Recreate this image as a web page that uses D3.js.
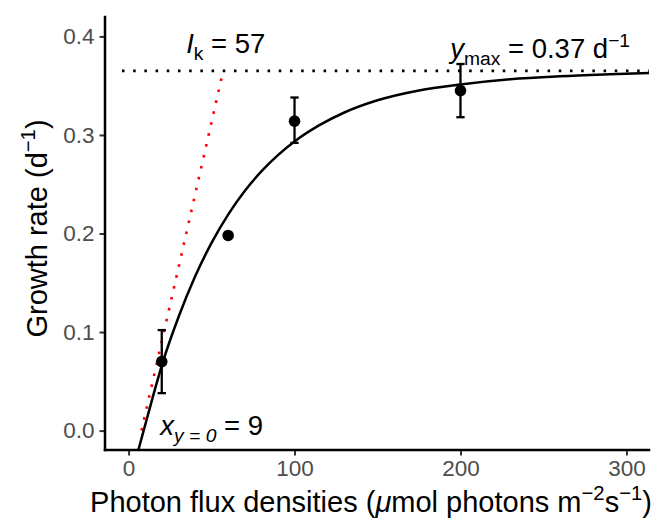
<!DOCTYPE html>
<html>
<head>
<meta charset="utf-8">
<script src="https://cdn.jsdelivr.net/npm/d3@7"></script>
<style>
  html, body { margin: 0; padding: 0; background: #ffffff; }
  svg { display: block; font-family: "Liberation Sans", Arial, Helvetica, sans-serif; }
</style>
</head>
<body>
<svg id="chart" width="658" height="521"></svg>
<script>
// ---- data ----
const lightLevels = [20, 60, 100, 200];
const growthMean  = [0.070, 0.198, 0.314, 0.345];
const growthLow   = [0.038, null, 0.292, 0.318];
const growthHigh  = [0.102, null, 0.338, 0.372];

// fitted light-response curve
const fitX = [5.9, 15, 20, 30, 40, 50, 60, 70, 80, 90, 100, 115, 130, 150, 175, 200, 230, 260, 290, 313.6];
const fitY = [-0.0197, 0.0365, 0.066, 0.1147, 0.156, 0.1905, 0.2192, 0.2431, 0.2630, 0.2796, 0.2934,
              0.3099, 0.3228, 0.3352, 0.3452, 0.3512, 0.3565, 0.3595, 0.3615, 0.3628];

const yMax = 0.365;     // saturation level (dotted line)
const yMaxLabel = "0.37";
const Ik = 57;          // light saturation parameter
const xIntercept = 7.8; // where the initial slope line crosses zero
const x0Label = "9";

const xTicks = [0, 100, 200, 300];
const yTicks = [0.0, 0.1, 0.2, 0.3, 0.4];

// ---- layout ----
const svg = d3.select("#chart");
const L = 105, R = 649, T = 17, B = 450;

const x = d3.scaleLinear().domain([-14.2, 313.6]).range([L, R]);
const y = d3.scaleLinear().domain([-0.0197, 0.4197]).range([B, T]);

svg.append("clipPath").attr("id", "clip")
  .append("rect").attr("x", L).attr("y", T).attr("width", R - L).attr("height", B - T);

const panel = svg.append("g").attr("clip-path", "url(#clip)");

// y max dotted line
panel.append("line")
  .attr("x1", x(-4)).attr("x2", x(313.6))
  .attr("y1", y(yMax)).attr("y2", y(yMax))
  .attr("stroke", "#000").attr("stroke-width", 2.6)
  .attr("stroke-dasharray", "2.6 8.6");

// initial slope (red dotted)
panel.append("line")
  .attr("x1", x(xIntercept)).attr("y1", y(0))
  .attr("x2", x(Ik)).attr("y2", y(yMax))
  .attr("stroke", "#ff0000").attr("stroke-width", 2.6)
  .attr("stroke-dasharray", "2.6 8.6");

// fitted curve
const fitPts = fitX.map((d, i) => [d, fitY[i]]);
panel.append("path")
  .datum(fitPts)
  .attr("fill", "none")
  .attr("stroke", "#000")
  .attr("stroke-width", 2.5)
  .attr("d", d3.line().x(d => x(d[0])).y(d => y(d[1])).curve(d3.curveMonotoneX));

// error bars
const pts = lightLevels.map((d, i) => ({ x: d, m: growthMean[i], lo: growthLow[i], hi: growthHigh[i] }));
const eb = panel.append("g").selectAll("g").data(pts.filter(d => d.lo !== null)).join("g")
  .attr("stroke", "#000").attr("stroke-width", 2.3);
eb.append("line").attr("x1", d => x(d.x)).attr("x2", d => x(d.x))
  .attr("y1", d => y(d.lo)).attr("y2", d => y(d.hi));
eb.append("line").attr("x1", d => x(d.x - 2.5)).attr("x2", d => x(d.x + 2.5))
  .attr("y1", d => y(d.lo)).attr("y2", d => y(d.lo));
eb.append("line").attr("x1", d => x(d.x - 2.5)).attr("x2", d => x(d.x + 2.5))
  .attr("y1", d => y(d.hi)).attr("y2", d => y(d.hi));

// points
panel.append("g").selectAll("circle").data(pts).join("circle")
  .attr("cx", d => x(d.x)).attr("cy", d => y(d.m)).attr("r", 5.8).attr("fill", "#000");

// ---- axes ----
const xAxis = svg.append("g").attr("transform", `translate(0,${B})`)
  .call(d3.axisBottom(x).tickValues(xTicks).tickFormat(d3.format("d")).tickSize(5.5).tickPadding(5));
const yAxis = svg.append("g").attr("transform", `translate(${L},0)`)
  .call(d3.axisLeft(y).tickValues(yTicks).tickFormat(d3.format(".1f")).tickSize(5.5).tickPadding(5));

[xAxis, yAxis].forEach(a => {
  a.select(".domain").remove();
  a.selectAll(".tick line").attr("stroke", "#333333").attr("stroke-width", 2);
  a.selectAll(".tick text").attr("fill", "#4d4d4d").attr("font-size", 22.5)
    .attr("font-family", "'Liberation Sans', Arial, sans-serif");
});

svg.append("line").attr("x1", L).attr("x2", R).attr("y1", B).attr("y2", B)
  .attr("stroke", "#000").attr("stroke-width", 2.5).attr("stroke-linecap", "square");
svg.append("line").attr("x1", L).attr("x2", L).attr("y1", T).attr("y2", B)
  .attr("stroke", "#000").attr("stroke-width", 2.5).attr("stroke-linecap", "square");

// ---- axis titles ----
const FS = 29;
const xt = svg.append("text")
  .attr("x", 371).attr("y", 512)
  .attr("text-anchor", "middle").attr("font-size", FS).attr("fill", "#000");
xt.append("tspan").text("Photon flux densities (");
xt.append("tspan").attr("font-style", "italic").text("\u03BC");
xt.append("tspan").text("mol photons m");
xt.append("tspan").attr("font-size", FS * 0.7).attr("dy", -FS * 0.42).text("\u22122");
xt.append("tspan").attr("dy", FS * 0.42).text("s");
xt.append("tspan").attr("font-size", FS * 0.7).attr("dy", -FS * 0.42).text("\u22121");
xt.append("tspan").attr("dy", FS * 0.42).text(")");

const yt = svg.append("text")
  .attr("transform", `translate(47,${(T + B) / 2 - 5}) rotate(-90)`)
  .attr("text-anchor", "middle").attr("font-size", FS).attr("fill", "#000");
yt.append("tspan").text("Growth rate (d");
yt.append("tspan").attr("font-size", FS * 0.7).attr("dy", -FS * 0.42).text("\u22121");
yt.append("tspan").attr("dy", FS * 0.42).text(")");

// ---- annotations ----
const AS = 27.5;
const a1 = svg.append("text").attr("x", x(58.6)).attr("y", y(0.383))
  .attr("text-anchor", "middle").attr("font-size", AS).attr("fill", "#000");
a1.append("tspan").attr("font-style", "italic").text("I");
a1.append("tspan").attr("font-size", AS * 0.7).attr("dy", AS * 0.25).text("k");
a1.append("tspan").attr("dy", -AS * 0.25).text(" = " + Ik);

const a2 = svg.append("text").attr("x", x(248)).attr("y", y(0.378))
  .attr("text-anchor", "middle").attr("font-size", AS).attr("fill", "#000");
a2.append("tspan").attr("font-style", "italic").text("y");
a2.append("tspan").attr("font-size", AS * 0.7).attr("dy", AS * 0.25).text("max");
a2.append("tspan").attr("dy", -AS * 0.25).text(" = " + yMaxLabel + " d");
a2.append("tspan").attr("font-size", AS * 0.7).attr("dy", -AS * 0.42).text("\u22121");

const a3 = svg.append("text").attr("x", x(50.1)).attr("y", y(-0.0045))
  .attr("text-anchor", "middle").attr("font-size", AS).attr("fill", "#000");
a3.append("tspan").attr("font-style", "italic").text("x");
a3.append("tspan").attr("font-size", AS * 0.7).attr("font-style", "italic").attr("dy", AS * 0.25).text("y = 0");
a3.append("tspan").attr("dy", -AS * 0.25).text(" = " + x0Label);
</script>
</body>
</html>
